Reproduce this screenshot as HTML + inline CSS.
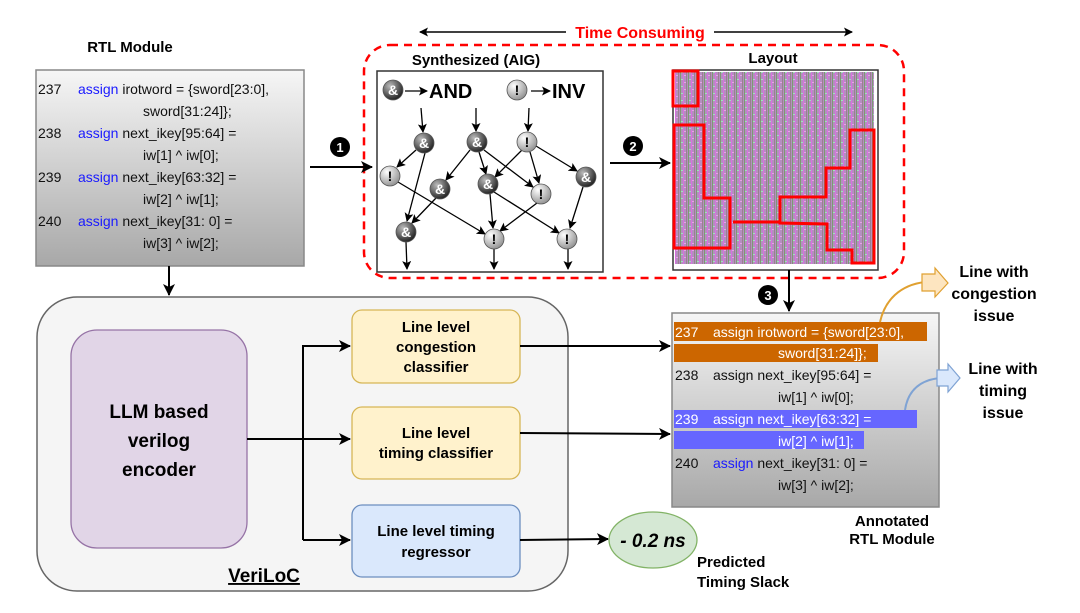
<!DOCTYPE html>
<html><head><meta charset="utf-8"><style>
html,body{margin:0;padding:0;background:#fff;}
svg{display:block;font-family:"Liberation Sans",sans-serif;}
.b{font-weight:bold;}
</style></head><body>
<svg width="1080" height="613" viewBox="0 0 1080 613" xmlns="http://www.w3.org/2000/svg">
<defs>
<marker id="ah" markerWidth="12" markerHeight="12" refX="11" refY="6" orient="auto" markerUnits="userSpaceOnUse"><path d="M0,0 L12,6 L0,12 L3,6 z" fill="#000"/></marker>
<marker id="as" markerWidth="9" markerHeight="9" refX="8" refY="4.5" orient="auto" markerUnits="userSpaceOnUse"><path d="M0,0 L9,4.5 L0,9 L2,4.5 z" fill="#000"/></marker>
<linearGradient id="code" x1="0" y1="0" x2="0" y2="1"><stop offset="0" stop-color="#f6f6f6"/><stop offset="1" stop-color="#a8a8a8"/></linearGradient>
<radialGradient id="and" cx="0.35" cy="0.3" r="0.8"><stop offset="0" stop-color="#bbb"/><stop offset="1" stop-color="#111"/></radialGradient>
<radialGradient id="inv" cx="0.35" cy="0.3" r="0.8"><stop offset="0" stop-color="#fff"/><stop offset="1" stop-color="#888"/></radialGradient>
<pattern id="lay" width="8" height="7" patternUnits="userSpaceOnUse">
<rect width="8" height="7" fill="#b48fc0"/><rect x="0" width="1" height="7" fill="#7d9a72"/><rect x="3" width="1" height="7" fill="#d870e0"/><rect x="6" width="1" height="7" fill="#9a8090"/><rect x="1" y="2" width="2" height="1" fill="#a0e0c0"/><rect x="4" y="5" width="2" height="1" fill="#e8a0e8"/>
</pattern>
</defs>

<!-- RTL module -->
<text x="130" y="52" text-anchor="middle" class="b" font-size="15">RTL Module</text>
<rect x="36" y="70" width="268" height="196" fill="url(#code)" stroke="#888" stroke-width="1.5"/>
<g font-size="14" fill="#111">
<text x="38" y="94">237</text><text x="78" y="94"><tspan fill="#1a1aff">assign</tspan> irotword = {sword[23:0],</text>
<text x="143" y="116">sword[31:24]};</text>
<text x="38" y="138">238</text><text x="78" y="138"><tspan fill="#1a1aff">assign</tspan> next_ikey[95:64] =</text>
<text x="143" y="160">iw[1] ^ iw[0];</text>
<text x="38" y="182">239</text><text x="78" y="182"><tspan fill="#1a1aff">assign</tspan> next_ikey[63:32] =</text>
<text x="143" y="204">iw[2] ^ iw[1];</text>
<text x="38" y="226">240</text><text x="78" y="226"><tspan fill="#1a1aff">assign</tspan> next_ikey[31: 0] =</text>
<text x="143" y="248">iw[3] ^ iw[2];</text>
</g>
<line x1="169" y1="266" x2="169" y2="295" stroke="#000" stroke-width="2" marker-end="url(#ah)"/>

<!-- time consuming -->
<line x1="566" y1="32" x2="420" y2="32" stroke="#000" stroke-width="1.5" marker-end="url(#as)"/>
<line x1="714" y1="32" x2="852" y2="32" stroke="#000" stroke-width="1.5" marker-end="url(#as)"/>
<text x="640" y="38" text-anchor="middle" class="b" font-size="16" fill="#ff0000">Time Consuming</text>
<rect x="364" y="45" width="540" height="233" rx="26" fill="none" stroke="#ff0000" stroke-width="2.5" stroke-dasharray="8,6"/>

<!-- AIG -->
<text x="476" y="65" text-anchor="middle" class="b" font-size="15">Synthesized (AIG)</text>
<rect x="377" y="71" width="226" height="201" fill="#fff" stroke="#333" stroke-width="1.5"/>
<g stroke="#000" stroke-width="1.3" fill="none" marker-end="url(#as)">
<line x1="421" y1="108" x2="423" y2="132"/><line x1="476" y1="108" x2="476" y2="131"/><line x1="529" y1="108" x2="528" y2="131"/>
<line x1="416" y1="150" x2="397" y2="167"/><line x1="425" y1="153" x2="407" y2="221"/>
<line x1="470" y1="150" x2="446" y2="180"/><line x1="479" y1="152" x2="486" y2="174"/><line x1="484" y1="150" x2="533" y2="187"/>
<line x1="522" y1="150" x2="495" y2="177"/><line x1="530" y1="152" x2="539" y2="183"/><line x1="536" y1="146" x2="577" y2="171"/>
<line x1="398" y1="182" x2="485" y2="234"/><line x1="436" y1="198" x2="412" y2="223"/>
<line x1="490" y1="194" x2="493" y2="228"/><line x1="494" y1="192" x2="559" y2="233"/>
<line x1="537" y1="203" x2="500" y2="231"/><line x1="583" y1="187" x2="570" y2="228"/>
<line x1="406" y1="242" x2="407" y2="269"/><line x1="494" y1="249" x2="494" y2="269"/><line x1="568" y1="249" x2="568" y2="269"/>
<line x1="405" y1="91" x2="427" y2="91"/><line x1="531" y1="91" x2="550" y2="91"/>
</g>
<g font-size="14" font-weight="bold" text-anchor="middle">
<g fill="url(#and)" stroke="#555" stroke-width="0.8">
<circle cx="393" cy="90" r="10"/><circle cx="424" cy="143" r="10"/><circle cx="477" cy="142" r="10"/><circle cx="440" cy="189" r="10"/><circle cx="488" cy="184" r="10"/><circle cx="586" cy="177" r="10"/><circle cx="406" cy="232" r="10"/>
</g>
<g fill="url(#inv)" stroke="#555" stroke-width="0.8">
<circle cx="517" cy="90" r="10"/><circle cx="527" cy="142" r="10"/><circle cx="390" cy="176" r="10"/><circle cx="541" cy="194" r="10"/><circle cx="494" cy="239" r="10"/><circle cx="567" cy="239" r="10"/>
</g>
<g fill="#fff"><text x="393" y="95">&amp;</text><text x="424" y="148">&amp;</text><text x="477" y="147">&amp;</text><text x="440" y="194">&amp;</text><text x="488" y="189">&amp;</text><text x="586" y="182">&amp;</text><text x="406" y="237">&amp;</text></g>
<g fill="#000"><text x="517" y="95">!</text><text x="527" y="147">!</text><text x="390" y="181">!</text><text x="541" y="199">!</text><text x="494" y="244">!</text><text x="567" y="244">!</text></g>
</g>
<text x="429" y="98" class="b" font-size="20">AND</text>
<text x="552" y="98" class="b" font-size="20">INV</text>

<!-- arrows 1,2 -->
<line x1="310" y1="167" x2="372" y2="167" stroke="#000" stroke-width="2" marker-end="url(#ah)"/>
<circle cx="340" cy="147" r="10" fill="#000"/><text x="340" y="152" text-anchor="middle" fill="#fff" class="b" font-size="13">1</text>
<line x1="610" y1="163" x2="670" y2="163" stroke="#000" stroke-width="2" marker-end="url(#ah)"/>
<circle cx="633" cy="146" r="10" fill="#000"/><text x="633" y="151" text-anchor="middle" fill="#fff" class="b" font-size="13">2</text>

<!-- Layout -->
<text x="773" y="63" text-anchor="middle" class="b" font-size="15">Layout</text>
<rect x="673" y="70" width="205" height="200" fill="#fff" stroke="#333" stroke-width="1.5"/>
<rect x="675" y="72" width="199" height="192" fill="url(#lay)"/>
<g fill="none" stroke="#ff0000" stroke-width="3">
<rect x="673" y="71" width="25" height="35"/>
<path d="M674,125 L704,125 L704,198 L730,198 L730,248 L674,248 Z"/>
<path d="M850,130 L874,130 L874,263 L852,263 L852,250 L827,250 L827,224 L780,223 L780,197 L826,197 L826,168 L850,168 Z"/>
<path d="M733,222 L780,222"/>
</g>
<line x1="789" y1="270" x2="789" y2="311" stroke="#000" stroke-width="2" marker-end="url(#ah)"/>
<circle cx="768" cy="295" r="10" fill="#000"/><text x="768" y="300" text-anchor="middle" fill="#fff" class="b" font-size="13">3</text>

<!-- Annotated -->
<rect x="672" y="313" width="267" height="194" fill="url(#code)" stroke="#888" stroke-width="1.5"/>
<rect x="674" y="322" width="253" height="19" fill="#cc6600"/>
<rect x="674" y="344" width="204" height="18" fill="#cc6600"/>
<rect x="674" y="410" width="243" height="18" fill="#6666ff"/>
<rect x="674" y="431" width="190" height="18" fill="#6666ff"/>
<g font-size="14" fill="#111">
<text x="675" y="337" fill="#fff">237</text><text x="713" y="337" fill="#fff">assign irotword = {sword[23:0],</text>
<text x="778" y="358" fill="#fff">sword[31:24]};</text>
<text x="675" y="380">238</text><text x="713" y="380">assign next_ikey[95:64] =</text>
<text x="778" y="402">iw[1] ^ iw[0];</text>
<text x="675" y="424" fill="#fff">239</text><text x="713" y="424" fill="#fff">assign next_ikey[63:32] =</text>
<text x="778" y="446" fill="#fff">iw[2] ^ iw[1];</text>
<text x="675" y="468">240</text><text x="713" y="468"><tspan fill="#1a1aff">assign</tspan> next_ikey[31: 0] =</text>
<text x="778" y="490">iw[3] ^ iw[2];</text>
</g>
<text x="892" y="526" text-anchor="middle" class="b" font-size="15">Annotated</text>
<text x="892" y="544" text-anchor="middle" class="b" font-size="15">RTL Module</text>

<!-- callouts -->
<path d="M880,322 C885,300 900,285 925,282" fill="none" stroke="#e0a030" stroke-width="2"/>
<path d="M922,274 L935,274 L935,268 L948,283 L935,297 L935,291 L922,291 Z" fill="#fde5c0" stroke="#e0a030" stroke-width="1.2"/>
<text x="994" y="277" text-anchor="middle" class="b" font-size="16">Line with</text>
<text x="994" y="299" text-anchor="middle" class="b" font-size="16">congestion</text>
<text x="994" y="321" text-anchor="middle" class="b" font-size="16">issue</text>
<path d="M905,410 C908,390 920,380 940,378" fill="none" stroke="#7fa3d4" stroke-width="2"/>
<path d="M937,370 L948,370 L948,364 L960,378 L948,392 L948,386 L937,386 Z" fill="#dae8fc" stroke="#7fa3d4" stroke-width="1.2"/>
<text x="1003" y="374" text-anchor="middle" class="b" font-size="16">Line with</text>
<text x="1003" y="396" text-anchor="middle" class="b" font-size="16">timing</text>
<text x="1003" y="418" text-anchor="middle" class="b" font-size="16">issue</text>

<!-- VeriLoC -->
<rect x="37" y="297" width="531" height="294" rx="40" fill="#f5f5f5" stroke="#666" stroke-width="1.5"/>
<rect x="71" y="330" width="176" height="218" rx="26" fill="#e1d5e7" stroke="#9673a6" stroke-width="1.3"/>
<g class="b" font-size="19" text-anchor="middle"><text x="159" y="418">LLM based</text><text x="159" y="447">verilog</text><text x="159" y="476">encoder</text></g>
<rect x="352" y="310" width="168" height="73" rx="10" fill="#fff2cc" stroke="#d6b656" stroke-width="1.3"/>
<g class="b" font-size="15" text-anchor="middle"><text x="436" y="332">Line level</text><text x="436" y="352">congestion</text><text x="436" y="372">classifier</text></g>
<rect x="352" y="407" width="168" height="72" rx="10" fill="#fff2cc" stroke="#d6b656" stroke-width="1.3"/>
<g class="b" font-size="15" text-anchor="middle"><text x="436" y="438">Line level</text><text x="436" y="458">timing classifier</text></g>
<rect x="352" y="505" width="168" height="72" rx="10" fill="#dae8fc" stroke="#6c8ebf" stroke-width="1.3"/>
<g class="b" font-size="15" text-anchor="middle"><text x="436" y="536">Line level timing</text><text x="436" y="557">regressor</text></g>
<text x="264" y="582" text-anchor="middle" class="b" font-size="19" text-decoration="underline">VeriLoC</text>
<g stroke="#000" stroke-width="2" fill="none">
<line x1="247" y1="439" x2="350" y2="439" marker-end="url(#ah)"/>
<path d="M303,540 L303,346 L350,346" marker-end="url(#ah)"/>
<line x1="303" y1="540" x2="350" y2="540" marker-end="url(#ah)"/>
<line x1="520" y1="346" x2="670" y2="346" marker-end="url(#ah)"/>
<line x1="520" y1="433" x2="670" y2="434" marker-end="url(#ah)"/>
<line x1="520" y1="540" x2="608" y2="539" marker-end="url(#ah)"/>
</g>
<ellipse cx="653" cy="540" rx="44" ry="28" fill="#d5e8d4" stroke="#82b366" stroke-width="1.3"/>
<text x="653" y="547" text-anchor="middle" class="b" font-style="italic" font-size="19">- 0.2 ns</text>
<text x="697" y="567" class="b" font-size="15">Predicted</text>
<text x="697" y="587" class="b" font-size="15">Timing Slack</text>
</svg>
</body></html>
